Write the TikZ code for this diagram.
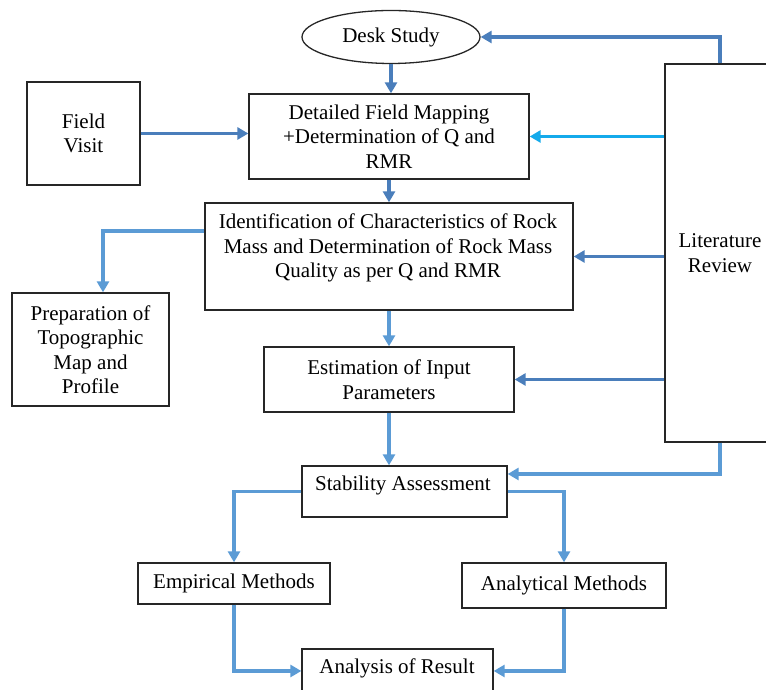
\documentclass[tikz,border=0pt]{standalone}
\usepackage{fontspec}
\setmainfont{Liberation Serif}
\usetikzlibrary{shapes.geometric,arrows.meta}
\definecolor{flowdark}{RGB}{74,126,187}
\definecolor{flowlight}{RGB}{91,155,213}
\definecolor{flowcyan}{RGB}{20,170,235}
\begin{document}
\begin{tikzpicture}[x=1pt,y=1pt,
    box/.style={draw=black!85,line width=1.3pt,rectangle,inner sep=0pt,align=center,
      font=\fontsize{21}{24.5}\selectfont},
    txt/.style={inner sep=0pt,align=center,font=\fontsize{21}{24.5}\selectfont},
    link/.style={line width=3.4pt,-{Triangle[length=11pt,width=12pt]}},
    dark/.style={link,flowdark},
    light/.style={link,flowlight},
    cyan/.style={link,flowcyan}]
  \useasboundingbox (0,0) rectangle (766,690);

  \node[box,ellipse,minimum width=178,minimum height=53] (desk) at (391,653) {Desk Study};
  \node[box,minimum width=280,minimum height=85] (detail) at (389,553.5)
    {Detailed Field Mapping\\+Determination of Q and\\RMR};
  \node[box,minimum width=113,minimum height=103] (field) at (83.5,556.5) {Field\\Visit};
  \node[box,minimum width=368,minimum height=107] (ident) at (389,433.5) {};
  \node[txt] (identtxt) at (388,442)
    {Identification of Characteristics of Rock\\Mass and Determination of Rock Mass\\Quality as per Q and RMR};
  \node[box,minimum width=157,minimum height=113] (prep) at (90.5,340.5)
    {Preparation of\\Topographic\\Map and\\Profile};
  \node[box,minimum width=250,minimum height=65] (estim) at (389,310.5)
    {Estimation of Input\\Parameters};
  \node[box,minimum width=205,minimum height=51] (stab) at (404.5,198.5) {};
  \node[txt] (stabtxt) at (403,205) {Stability Assessment};
  \node[box,minimum width=110,minimum height=378] (lit) at (720,437) {Literature\\Review};
  \node[box,minimum width=192,minimum height=41] (emp) at (234,106.5) {Empirical Methods};
  \node[box,minimum width=204,minimum height=45] (anal) at (564,104.5) {Analytical Methods};
  \node[box,minimum width=191,minimum height=44] (res) at (397.5,19) {};
  \node[txt] (restxt) at (397,22) {Analysis of Result};

  \draw[dark] (lit.north) |- (desk.east);
  \draw[dark] (desk.south) -- (desk.south |- detail.north);
  \draw[dark] (field.east) -- (field.east -| detail.west);
  \draw[cyan] (lit.west |- detail.east) -- (detail.east);
  \draw[dark] (detail.south) -- (ident.north);
  \draw[dark] (lit.west |- ident.east) -- (ident.east);
  \draw[light] ([yshift=25.5pt]ident.west) -| ([xshift=12.5pt]prep.north);
  \draw[light] (ident.south) -- (estim.north);
  \draw[dark] (lit.west |- estim.east) -- (estim.east);
  \draw[light] (estim.south) -- (estim.south |- stab.north);
  \draw[light] (lit.south) |- ([yshift=17.5pt]stab.east);
  \draw[light] (stab.west) -| (emp.north);
  \draw[light] (stab.east) -| (anal.north);
  \draw[light] (emp.south) |- (res.west);
  \draw[light] (anal.south) |- (res.east);
\end{tikzpicture}
\end{document}
